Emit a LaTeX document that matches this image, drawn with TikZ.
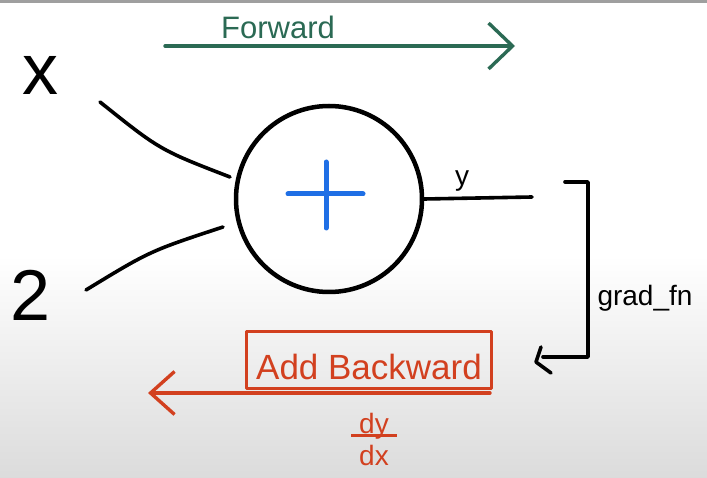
\documentclass[tikz,border=0pt]{standalone}
\usepackage{fontspec}
\setmainfont{Liberation Sans}
\usetikzlibrary{arrows.meta}

\definecolor{fwdgreen}{HTML}{2B6A54}
\definecolor{bwdred}{HTML}{D2401F}
\definecolor{plusblue}{HTML}{1F6FE5}
\newcommand{\hand}[1]{\fontsize{#1}{#1}\selectfont}

\begin{document}
\begin{tikzpicture}[x=1pt, y=-1pt, line cap=round, line join=round,
  ink/.style={black, line width=3.6pt},
  fwdink/.style={fwdgreen, line width=3.4pt},
  bwdink/.style={bwdred, line width=3.4pt},
  barb/.style={-{Straight Barb[length=24pt, width=46pt]}}]
  \useasboundingbox (0,0) rectangle (707,478);
  % canvas
  \fill[white] (0,0) rectangle (707,478);
  \shade[top color=white, bottom color=gray!28] (0,255) rectangle (707,478);
  \fill[gray!75] (0,0) rectangle (707,3);

  % forward pass
  \coordinate (F0) at (165,46);
  \coordinate (F1) at (515,46);
  \draw[fwdink, barb] (F0) -- (F1);
  \node[text=fwdgreen, font=\hand{31}] (fwd) at (278,27) {Forward};

  % inputs and the add node
  \node[font=\hand{72}] (inx) at (40,75) {x};
  \node[font=\hand{72}] (intwo) at (31,295) {2};
  \node[circle, draw, line width=4.5pt, minimum size=186pt] (add) at (329,199) {};
  \draw[plusblue, line width=5pt] (288,194) -- (363,194) (326,162) -- (326,228);

  \coordinate (x0) at (100,102);
  \coordinate (x1) at (230,177);
  \coordinate (t0) at (86,290);
  \coordinate (t1) at (223,227);
  \draw[ink] (x0) .. controls (160,150) .. (x1);
  \draw[ink] (t0) .. controls (150,251) .. (t1);

  % output
  \coordinate (y1) at (532,197);
  \draw[ink] (add.east) -- (y1);
  \node[font=\hand{28}] (outy) at (462,181) {y};

  % grad_fn bracket
  \coordinate (g0) at (565,182);
  \coordinate (g1) at (543,357);
  \draw[ink] (g0) -- (588,182) -- (588,357) -- (g1);
  \draw[ink] (541,347) -- (536,362) -- (551,373);
  \node[font=\hand{28}] (gradfn) at (645,298) {grad\_fn};

  % backward pass
  \node[draw=bwdred, line width=3pt, text=bwdred, font=\hand{35},
    minimum width=245pt, minimum height=56pt, inner sep=0pt,
    text height=40pt, text depth=0pt] (addbw) at (369,360) {Add Backward};
  \coordinate (B0) at (490,393);
  \coordinate (B1) at (148,393);
  \draw[bwdink, -{Straight Barb[length=24pt, width=43pt]}] (B0) -- (B1);
  \node[text=bwdred, font=\hand{28}, align=center] (dydx) at (374,439)
    {dy\\[-24pt]\rule{46pt}{3pt}\\dx};
\end{tikzpicture}
\end{document}
